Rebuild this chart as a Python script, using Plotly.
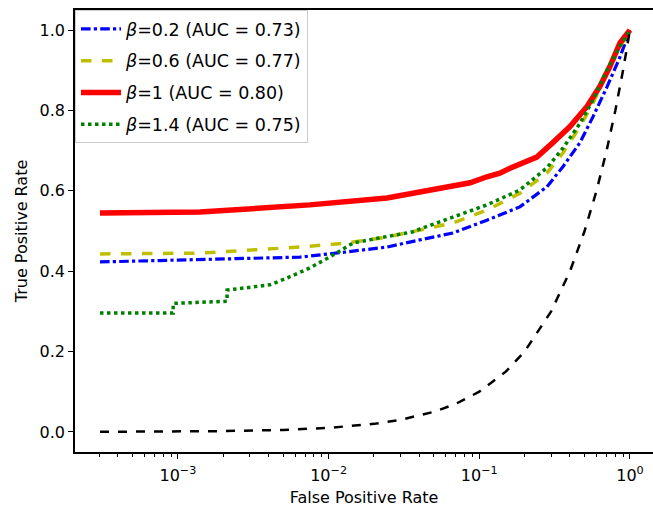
import plotly.graph_objects as go

# ---- data ----
fpr_b02 = [3.04e-4, 1.4e-3, 6.46e-3, 0.0132, 0.0244, 0.0404, 0.0669, 0.1124, 0.186, 0.281, 0.359, 0.466, 0.568, 0.703, 0.859, 1.0]
tpr_b02 = [0.423, 0.428, 0.435, 0.448, 0.46, 0.478, 0.495, 0.527, 0.56, 0.61, 0.66, 0.72, 0.784, 0.858, 0.933, 1.0]

fpr_b06 = [3.04e-4, 1.4e-3, 6.46e-3, 0.0132, 0.0244, 0.0404, 0.0669, 0.1124, 0.186, 0.281, 0.359, 0.466, 0.568, 0.703, 0.859, 1.0]
tpr_b06 = [0.443, 0.445, 0.46, 0.47, 0.485, 0.502, 0.52, 0.552, 0.594, 0.644, 0.694, 0.76, 0.818, 0.893, 0.958, 1.0]

fpr_b1 = [3.04e-4, 1.4e-3, 7.5e-3, 0.0132, 0.0244, 0.0363, 0.0669, 0.087, 0.1124, 0.137, 0.160, 0.20, 0.241, 0.308, 0.40, 0.519, 0.632, 0.737, 0.859, 0.93, 1.0]
tpr_b1 = [0.545, 0.547, 0.565, 0.572, 0.582, 0.594, 0.61, 0.62, 0.635, 0.644, 0.656, 0.67, 0.684, 0.72, 0.76, 0.81, 0.86, 0.91, 0.968, 0.985, 1.0]

fpr_b14 = [3.04e-4, 9.3e-4, 9.3e-4, 2.12e-3, 2.12e-3, 4.08e-3, 5.3e-3, 7.5e-3, 0.0107, 0.0145, 0.0219, 0.0363, 0.0404, 0.1124, 0.186, 0.281, 0.359, 0.466, 0.568, 0.703, 0.859, 1.0]
tpr_b14 = [0.296, 0.296, 0.32, 0.325, 0.353, 0.366, 0.383, 0.408, 0.44, 0.47, 0.483, 0.498, 0.505, 0.565, 0.602, 0.657, 0.706, 0.768, 0.826, 0.90, 0.96, 1.0]

fpr_chance = [3.04e-4, 5e-4, 1e-3, 2e-3, 5e-3, 0.01, 0.02, 0.03, 0.05, 0.07, 0.1, 0.15, 0.2, 0.3, 0.4, 0.5, 0.6, 0.7, 0.8, 0.9, 1.0]
tpr_chance = [3.04e-4, 5e-4, 1e-3, 2e-3, 5e-3, 0.01, 0.02, 0.03, 0.05, 0.07, 0.1, 0.15, 0.2, 0.3, 0.4, 0.5, 0.6, 0.7, 0.8, 0.9, 1.0]

labels = ["<i>β</i>=0.2 (AUC = 0.73)", "<i>β</i>=0.6 (AUC = 0.77)",
          "<i>β</i>=1 (AUC = 0.80)", "<i>β</i>=1.4 (AUC = 0.75)"]

x_tickvals = [1e-3, 1e-2, 1e-1, 1]
x_ticktext = ["10<sup>−3</sup>", "10<sup>−2</sup>", "10<sup>−1</sup>", "10<sup>0</sup>"]
y_tickvals = [0.0, 0.2, 0.4, 0.6, 0.8, 1.0]
y_ticktext = ["0.0", "0.2", "0.4", "0.6", "0.8", "1.0"]

minor_x = [m * 10.0 ** e for e in (-4, -3, -2, -1) for m in range(2, 10) if m * 10.0 ** e > 2.1e-4]

FONT = "DejaVu Sans"

fig = go.Figure()
fig.add_trace(go.Scatter(x=fpr_b02, y=tpr_b02, mode="lines", name=labels[0], legendgroup="a",
                         line=dict(color="#0000ff", width=3.2, dash="dashdot")))
fig.add_trace(go.Scatter(x=fpr_b06, y=tpr_b06, mode="lines", name=labels[1], legendgroup="b",
                         line=dict(color="#bfbf00", width=3.5, dash="dash")))
fig.add_trace(go.Scatter(x=fpr_b1, y=tpr_b1, mode="lines", name=labels[2], legendgroup="c",
                         line=dict(color="#ff0000", width=5.5)))
fig.add_trace(go.Scatter(x=fpr_b14, y=tpr_b14, mode="lines", name=labels[3], legendgroup="d",
                         line=dict(color="#008000", width=3.5, dash="dot")))
fig.add_trace(go.Scatter(x=fpr_chance, y=tpr_chance, mode="lines", showlegend=False,
                         line=dict(color="black", width=2.5, dash="dash")))

fig.update_layout(
    width=653, height=514,
    margin=dict(l=75, r=0, t=10, b=62),
    plot_bgcolor="white", paper_bgcolor="white",
    font=dict(family=FONT, size=16, color="black"),
    showlegend=True,
    legend=dict(x=0.0, y=1.0, xanchor="left", yanchor="top",
                bgcolor="rgba(255,255,255,0.85)", bordercolor="#cccccc", borderwidth=1,
                font=dict(family=FONT, size=17.5), tracegroupgap=6, itemwidth=40),
)
fig.update_xaxes(type="log", range=[-3.683, 0.153],
                 tickvals=x_tickvals, ticktext=x_ticktext,
                 showgrid=False, zeroline=False, showline=True, linecolor="black", linewidth=1.5,
                 mirror=True, ticks="outside", ticklen=5, tickwidth=1.2, tickcolor="black",
                 minor=dict(tickvals=minor_x, ticks="outside", ticklen=3, tickwidth=1, tickcolor="black", showgrid=False),
                 title=dict(text="False Positive Rate", font=dict(size=16), standoff=8),
                 tickfont=dict(size=16), ticklabelstandoff=3)
fig.update_yaxes(range=[-0.05, 1.05], tickvals=y_tickvals, ticktext=y_ticktext,
                 showgrid=False, zeroline=False, showline=True, linecolor="black", linewidth=1.5,
                 ticks="outside", ticklen=5, tickwidth=1.2, tickcolor="black",
                 title=dict(text="True Positive Rate", font=dict(size=16), standoff=8),
                 tickfont=dict(size=16))

fig.write_html("out.html")
